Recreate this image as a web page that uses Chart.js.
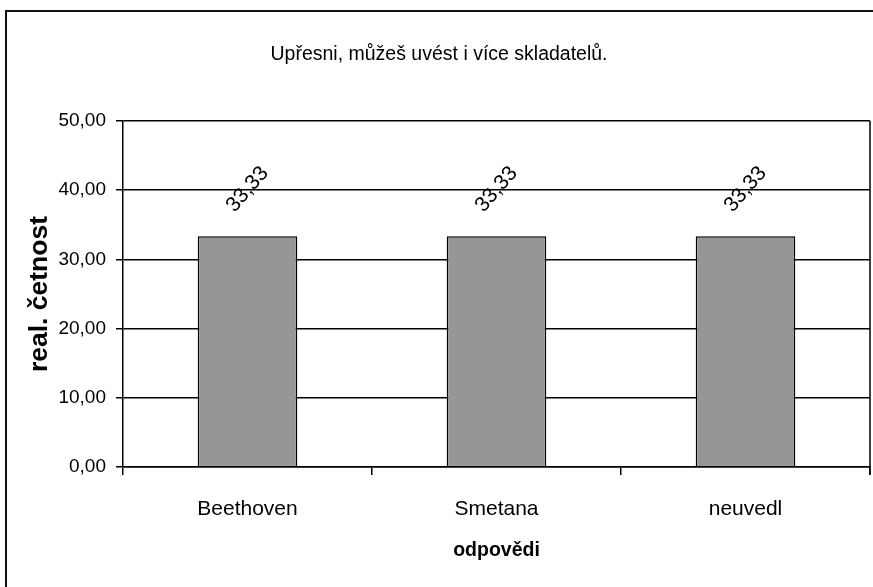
<!DOCTYPE html>
<html>
<head>
<meta charset="utf-8">
<script src="https://cdn.jsdelivr.net/npm/chart.js@4/dist/chart.umd.min.js"></script>
<style>
  html, body { margin: 0; padding: 0; background: #fff; }
  #wrap { width: 873px; height: 587px; }
</style>
</head>
<body>
<div id="wrap"><canvas id="mycanvas" width="873" height="587"></canvas></div>
<script>
// data
var odpovedi = ['Beethoven', 'Smetana', 'neuvedl'];
var cetnost = [33.33, 33.33, 33.33];
var yTicks = [0, 10, 20, 30, 40, 50];

var narrow = "'Liberation Sans Narrow', 'Liberation Sans', Arial, sans-serif";
var wide = "'Liberation Sans', Arial, sans-serif";

function fmt(v) {
  return v.toFixed(2).replace('.', ',');
}

// frame round the chart, right edge of the plot, rotated value labels
var extras = {
  id: 'extras',
  beforeDraw: function(chart) {
    var ctx = chart.ctx;
    ctx.save();
    ctx.fillStyle = '#fff';
    ctx.fillRect(0, 0, chart.width, chart.height);
    ctx.strokeStyle = '#111';
    ctx.lineWidth = 2;
    ctx.beginPath();
    ctx.moveTo(6, chart.height + 2);
    ctx.lineTo(6, 11);
    ctx.lineTo(chart.width + 2, 11);
    ctx.stroke();
    ctx.restore();
  },
  afterDraw: function(chart) {
    var ctx = chart.ctx;
    var a = chart.chartArea;
    ctx.save();
    ctx.strokeStyle = '#000';
    ctx.lineWidth = 1.5;
    ctx.beginPath();
    ctx.moveTo(a.right, a.top);
    ctx.lineTo(a.right, a.bottom + 8);
    ctx.stroke();

    var meta = chart.getDatasetMeta(0);
    ctx.fillStyle = '#000';
    ctx.font = '21px ' + narrow;
    ctx.textAlign = 'center';
    ctx.textBaseline = 'middle';
    meta.data.forEach(function(bar, i) {
      ctx.save();
      ctx.translate(bar.x, bar.y - 47);
      ctx.rotate(-49 * Math.PI / 180);
      ctx.fillText(fmt(cetnost[i]), 0, 0);
      ctx.restore();
    });
    ctx.restore();
  }
};

Chart.defaults.color = '#000';

var ctx = document.getElementById('mycanvas');
var barGraph = new Chart(ctx, {
  type: 'bar',
  data: {
    labels: odpovedi,
    datasets: [{
      label: 'real. četnost',
      data: cetnost,
      backgroundColor: '#969696',
      borderColor: '#000',
      borderWidth: 1.5,
      categoryPercentage: 1,
      barPercentage: 0.4
    }]
  },
  options: {
    responsive: false,
    animation: false,
    events: [],
    layout: { padding: { left: 8, right: 3, top: 10, bottom: 10 } },
    plugins: {
      legend: { display: false },
      tooltip: { enabled: false },
      title: {
        display: true,
        text: 'Upřesni, můžeš uvést i více skladatelů.',
        color: '#000',
        font: { family: narrow, size: 19.5, weight: 'normal', lineHeight: 1.2 },
        padding: { top: 33, bottom: 54.6 }
      }
    },
    scales: {
      x: {
        grid: {
          drawOnChartArea: false,
          drawTicks: true,
          tickLength: 8,
          color: '#000',
          lineWidth: 1.5,
          offset: true
        },
        border: { display: true, color: '#000', width: 1.5 },
        ticks: {
          color: '#000',
          padding: 22,
          maxRotation: 0,
          font: { family: narrow, size: 21 }
        },
        title: {
          display: true,
          text: 'odpovědi',
          color: '#000',
          font: { family: narrow, size: 19.5, weight: 'bold', lineHeight: 1.2 },
          padding: { top: 0, bottom: 14.3 }
        },
        afterFit: function(scale) { scale.height = 110; }
      },
      y: {
        min: yTicks[0],
        max: yTicks[yTicks.length - 1],
        afterBuildTicks: function(scale) {
          scale.ticks = yTicks.map(function(v) { return { value: v }; });
        },
        grid: {
          color: '#000',
          lineWidth: 1.5,
          tickLength: 7
        },
        border: { display: true, color: '#000', width: 1.5 },
        ticks: {
          color: '#000',
          padding: 10,
          font: { family: narrow, size: 19 },
          callback: function(v) { return fmt(v); }
        },
        title: {
          display: true,
          text: 'real. četnost',
          color: '#000',
          font: { family: wide, size: 26.5, weight: 'bold', lineHeight: 1.2 },
          padding: { top: 16, bottom: 0 }
        },
        afterFit: function(scale) { scale.width = 115; }
      }
    }
  },
  plugins: [extras]
});
</script>
</body>
</html>
